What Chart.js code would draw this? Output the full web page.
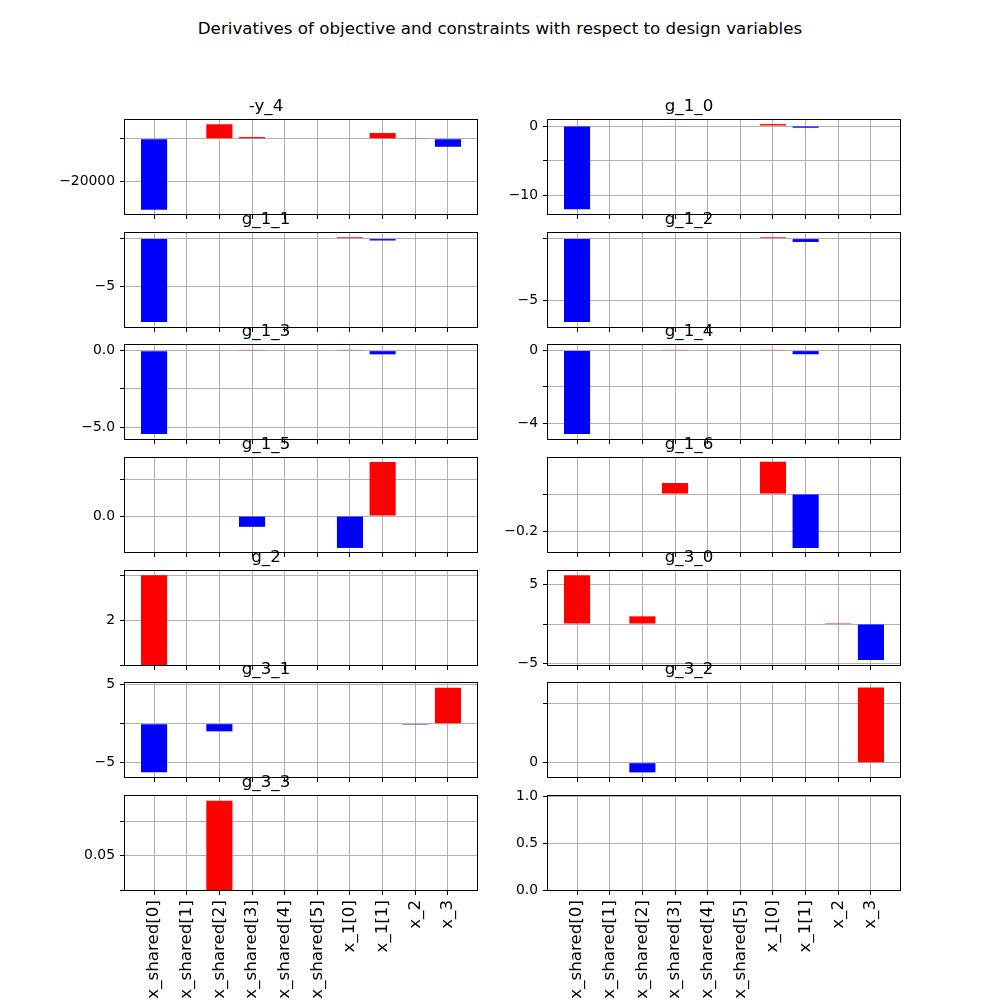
<!DOCTYPE html>
<html>
<head>
<meta charset="utf-8">
<script src="https://cdn.jsdelivr.net/npm/chart.js"></script>
<style>
  body { margin: 0; background: #fff; }
  #fig { position: relative; width: 1000px; height: 1000px; overflow: hidden; }
  #fig canvas { position: absolute; }
  #suptitle { position: absolute; left: 0; top: 18px; width: 1000px; text-align: center;
              font-family: 'DejaVu Sans'; font-size: 16.7px; line-height: 20px; color: #000; }
</style>
</head>
<body>
<div id="fig">
  <div id="suptitle">Derivatives of objective and constraints with respect to design variables</div>
</div>
<script>
/* Dados */
var variables = ['x_shared[0]', 'x_shared[1]', 'x_shared[2]', 'x_shared[3]', 'x_shared[4]',
                 'x_shared[5]', 'x_1[0]', 'x_1[1]', 'x_2', 'x_3'];
var outputs = ['-y_4', 'g_1_0', 'g_1_1', 'g_1_2', 'g_1_3', 'g_1_4', 'g_1_5',
               'g_1_6', 'g_2', 'g_3_0', 'g_3_1', 'g_3_2', 'g_3_3'];

var d_y_4   = [-33300, 0, 6800, 800, 0, 0, 0, 2680, 330, -3750];
var d_g_1_0 = [-12.07, 0, 0, 0.08, 0, 0, 0.28, -0.25, 0, 0];
var d_g_1_1 = [-8.69, 0, 0, 0, 0, 0, 0.13, -0.2, 0, 0];
var d_g_1_2 = [-6.72, 0, 0, 0, 0, 0, 0.1, -0.27, 0, 0];
var d_g_1_3 = [-5.45, 0, 0, 0.05, 0, 0, 0.05, -0.24, 0, 0];
var d_g_1_4 = [-4.6, 0, 0, 0.04, 0, 0, 0.04, -0.2, 0, 0];
var d_g_1_5 = [0, 0, 0, -0.145, 0, 0, -0.43, 0.73, 0, 0];
var d_g_1_6 = [0, 0, 0, 0.059, 0, 0, 0.173, -0.288, 0, 0];
var d_g_2   = [3.0, 0, 0, 0, 0, 0, 0, 0, 0, 0];
var d_g_3_0 = [6.21, 0, 0.98, 0, 0, 0, 0, 0, 0.12, -4.59];
var d_g_3_1 = [-6.21, 0, -0.98, 0, 0, 0, 0, 0, -0.12, 4.59];
var d_g_3_2 = [0, 0, -0.82, 0, 0, 0, 0, 0, 0, 6.35];
var d_g_3_3 = [0, 0, 0.066, 0, 0, 0, 0, 0, 0, 0];

var derivadas = [d_y_4, d_g_1_0, d_g_1_1, d_g_1_2, d_g_1_3, d_g_1_4, d_g_1_5,
                 d_g_1_6, d_g_2, d_g_3_0, d_g_3_1, d_g_3_2, d_g_3_3];

// limites do eixo y de cada painel (o ultimo e o painel vazio)
var yMin = [-35305, -12.74, -9.2, -7.12, -5.77, -4.88, -0.485, -0.31, 1.0, -5.22, -6.8, -1.21, 0.04, 0];
var yMax = [8805, 0.87, 0.58, 0.45, 0.37, 0.31, 0.784, 0.193, 3.095, 6.76, 5.18, 6.74, 0.0674, 1];

var yTicks = [[0, -20000], [0, -5, -10], [0, -5], [0, -5], [0, -2.5, -5], [0, -2, -4], [0, 0.5],
              [0, -0.2], [1, 2, 3], [5, 0, -5], [5, 0, -5], [0, 5], [0.04, 0.05, 0.06], [0, 0.5, 1]];
var yTickText = [['', '\u221220000'], ['0', '', '\u221210'], ['', '\u22125'], ['', '\u22125'],
                 ['0.0', '', '\u22125.0'], ['0', '', '\u22124'], ['0.0', ''], ['', '\u22120.2'],
                 ['', '2', ''], ['5', '', '\u22125'], ['5', '', '\u22125'], ['0', ''],
                 ['', '0.05', ''], ['0.0', '0.5', '1.0']];

/* Layout */
Chart.defaults.font.family = 'DejaVu Sans';
Chart.defaults.color = '#000';

var rowTops = [120, 233, 345, 458, 571, 683, 796];
var colLefts = [125, 548];
var axW = 352, axH = 94, yW = 70, titleH = 24;

// moldura preta em volta da area do grafico
var moldura = {
  id: 'moldura',
  afterDraw: function (chart) {
    var a = chart.chartArea, c = chart.ctx;
    c.save();
    c.strokeStyle = '#000';
    c.lineWidth = 1;
    c.strokeRect(a.left - 0.5, a.top - 0.5, a.right - a.left + 1, a.bottom - a.top + 1);
    c.restore();
  }
};

function criarPainel(i) {
  var row = Math.floor(i / 2), col = i % 2;
  var ultimo = row === 6;
  var xH = ultimo ? 110 : 6;
  var titulo = outputs[i];
  var valores = derivadas[i];

  var canvas = document.createElement('canvas');
  canvas.width = yW + axW + yW;
  canvas.height = titleH + axH + xH;
  canvas.style.left = (colLefts[col] - yW) + 'px';
  canvas.style.top = (rowTops[row] - titleH) + 'px';
  document.getElementById('fig').appendChild(canvas);

  var datasets = [];
  if (valores) {
    datasets.push({
      data: valores.map(function (v, k) { return { x: k, y: v }; }),
      backgroundColor: function (ctx) { return ctx.raw && ctx.raw.y < 0 ? '#0000ff' : '#ff0000'; },
      borderWidth: 0,
      categoryPercentage: 0.8,
      barPercentage: 1,
      clip: 0
    });
  }

  new Chart(canvas.getContext('2d'), {
    type: 'bar',
    data: { datasets: datasets },
    options: {
      responsive: false,
      animation: false,
      events: [],
      layout: {
        autoPadding: false,
        padding: { left: 0, right: yW, top: titulo ? 0 : titleH, bottom: 0 }
      },
      plugins: {
        legend: { display: false },
        tooltip: { enabled: false },
        title: {
          display: !!titulo,
          text: titulo,
          color: '#000',
          font: { size: 16.7, weight: 'normal', lineHeight: '20px' },
          padding: { top: 1, bottom: 3 }
        }
      },
      scales: {
        x: {
          type: 'linear',
          min: -0.89,
          max: 9.89,
          bounds: 'data',
          offset: false,
          afterBuildTicks: function (s) { s.ticks = variables.map(function (v, k) { return { value: k }; }); },
          afterFit: function (s) {
            s.height = xH;
            s.paddingLeft = 0; s.paddingRight = 0; s.paddingTop = 0; s.paddingBottom = 0;
          },
          grid: { color: '#b0b0b0', tickColor: '#000', tickLength: 5, lineWidth: 1, offset: false },
          border: { display: false },
          ticks: {
            display: ultimo,
            autoSkip: false,
            minRotation: 90,
            maxRotation: 90,
            padding: 5,
            color: '#000',
            font: { size: 16.7 },
            callback: function (v, k) { return variables[k]; }
          }
        },
        y: {
          type: 'linear',
          min: yMin[i],
          max: yMax[i],
          bounds: 'data',
          beginAtZero: false,
          afterBuildTicks: function (s) { s.ticks = yTicks[i].map(function (v) { return { value: v }; }); },
          afterFit: function (s) {
            s.width = yW;
            s.paddingLeft = 0; s.paddingRight = 0; s.paddingTop = 0; s.paddingBottom = 0;
          },
          grid: { color: '#b0b0b0', tickColor: '#000', tickLength: 5, lineWidth: 1 },
          border: { display: false },
          ticks: {
            autoSkip: false,
            padding: 5,
            color: '#000',
            font: { size: 13.9 },
            callback: function (v, k) { return yTickText[i][k]; }
          }
        }
      }
    },
    plugins: [moldura]
  });
}

for (var i = 0; i < 14; i++) {
  criarPainel(i);
}
</script>
</body>
</html>
